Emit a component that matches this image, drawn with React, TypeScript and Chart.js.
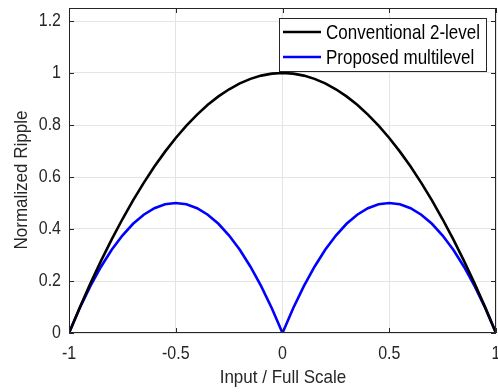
import React, { useEffect, useRef } from "react";
import { Chart, registerables } from "chart.js";

Chart.register(...registerables);

const xValues = [
  -1, -0.95, -0.9, -0.85, -0.8, -0.75, -0.7, -0.65, -0.6, -0.55, -0.5,
  -0.45, -0.4, -0.35, -0.3, -0.25, -0.2, -0.15, -0.1, -0.05, 0,
  0.05, 0.1, 0.15, 0.2, 0.25, 0.3, 0.35, 0.4, 0.45, 0.5,
  0.55, 0.6, 0.65, 0.7, 0.75, 0.8, 0.85, 0.9, 0.95, 1,
];

const conventional = [
  0, 0.0975, 0.19, 0.2775, 0.36, 0.4375, 0.51, 0.5775, 0.64, 0.6975, 0.75,
  0.7975, 0.84, 0.8775, 0.91, 0.9375, 0.96, 0.9775, 0.99, 0.9975, 1,
  0.9975, 0.99, 0.9775, 0.96, 0.9375, 0.91, 0.8775, 0.84, 0.7975, 0.75,
  0.6975, 0.64, 0.5775, 0.51, 0.4375, 0.36, 0.2775, 0.19, 0.0975, 0,
];

const multilevel = [
  0, 0.095, 0.18, 0.255, 0.32, 0.375, 0.42, 0.455, 0.48, 0.495, 0.5,
  0.495, 0.48, 0.455, 0.42, 0.375, 0.32, 0.255, 0.18, 0.095, 0,
  0.095, 0.18, 0.255, 0.32, 0.375, 0.42, 0.455, 0.48, 0.495, 0.5,
  0.495, 0.48, 0.455, 0.42, 0.375, 0.32, 0.255, 0.18, 0.095, 0,
];

const xTicks = [-1, -0.5, 0, 0.5, 1];
const xTickLabels = ["-1", "-0.5", "0", "0.5", "1"];
const yTicks = [0, 0.2, 0.4, 0.6, 0.8, 1, 1.2];
const yTickLabels = ["0", "0.2", "0.4", "0.6", "0.8", "1", "1.2"];

const seriesNames = ["Conventional 2-level", "Proposed multilevel"];
const seriesColors = ["#000000", "#0000ff"];
const xTitle = "Input / Full Scale";
const yTitle = "Normalized Ripple";

const FONT = "'Liberation Sans', Arial, Helvetica, sans-serif";
const AXIS_COLOR = "#262626";

function stretchedText(
  ctx: CanvasRenderingContext2D,
  text: string,
  x: number,
  y: number,
  size: number,
  align: CanvasTextAlign,
  sy: number,
  rot = 0
) {
  ctx.save();
  ctx.translate(x, y);
  if (rot) ctx.rotate(rot);
  ctx.scale(1, sy);
  ctx.font = `${size}px ${FONT}`;
  ctx.textAlign = align;
  ctx.textBaseline = "middle";
  ctx.fillText(text, 0, 0);
  ctx.restore();
}

const decorPlugin = {
  id: "matlabDecor",
  afterDraw(chart: any) {
    const { ctx, chartArea } = chart;
    const { left, right, top, bottom } = chartArea;
    const xs = chart.scales.x;
    const ys = chart.scales.y;
    ctx.save();
    // box
    ctx.strokeStyle = AXIS_COLOR;
    ctx.lineWidth = 1;
    ctx.strokeRect(left + 0.5, top + 0.5, right - left - 1, bottom - top - 1);
    // ticks inward
    const tl = 5;
    ctx.beginPath();
    xTicks.forEach((v) => {
      const px = Math.round(xs.getPixelForValue(v)) + 0.5;
      ctx.moveTo(px, bottom);
      ctx.lineTo(px, bottom - tl);
      ctx.moveTo(px, top);
      ctx.lineTo(px, top + tl);
    });
    yTicks.forEach((v) => {
      const py = Math.round(ys.getPixelForValue(v)) + 0.5;
      ctx.moveTo(left, py);
      ctx.lineTo(left + tl, py);
      ctx.moveTo(right, py);
      ctx.lineTo(right - tl, py);
    });
    ctx.stroke();

    // tick labels
    ctx.fillStyle = AXIS_COLOR;
    xTicks.forEach((v, i) => {
      stretchedText(ctx, xTickLabels[i], xs.getPixelForValue(v), 354, 16, "center", 1.15);
    });
    yTicks.forEach((v, i) => {
      stretchedText(ctx, yTickLabels[i], 61, ys.getPixelForValue(v), 16, "right", 1.15);
    });

    // axis titles
    stretchedText(ctx, xTitle, 283, 378, 17, "center", 1.12);
    stretchedText(ctx, yTitle, 22, 180, 17, "center", 1.12, -Math.PI / 2);

    // legend
    const lx = 279.5, ly = 18.5, lw = 207, lh = 53;
    ctx.fillStyle = "#ffffff";
    ctx.fillRect(lx, ly, lw, lh);
    ctx.strokeStyle = AXIS_COLOR;
    ctx.lineWidth = 1;
    ctx.strokeRect(lx, ly, lw, lh);
    seriesNames.forEach((name, i) => {
      const yy = 32 + i * 25;
      ctx.strokeStyle = seriesColors[i];
      ctx.lineWidth = 2.5;
      ctx.beginPath();
      ctx.moveTo(283, yy);
      ctx.lineTo(321, yy);
      ctx.stroke();
      ctx.fillStyle = "#000000";
      stretchedText(ctx, name, 326, yy + 1, 17, "left", 1.2);
    });
    ctx.restore();
  },
};

export default function App() {
  const canvasRef = useRef<HTMLCanvasElement | null>(null);

  useEffect(() => {
    if (!canvasRef.current) return;
    const chart = new Chart(canvasRef.current, {
      type: "line",
      data: {
        datasets: [
          {
            label: seriesNames[0],
            data: xValues.map((x, i) => ({ x, y: conventional[i] })),
            borderColor: seriesColors[0],
            borderWidth: 2.6,
            pointRadius: 0,
            tension: 0,
            fill: false,
          },
          {
            label: seriesNames[1],
            data: xValues.map((x, i) => ({ x, y: multilevel[i] })),
            borderColor: seriesColors[1],
            borderWidth: 2.6,
            pointRadius: 0,
            tension: 0,
            fill: false,
          },
        ],
      },
      options: {
        animation: false,
        responsive: false,
        maintainAspectRatio: false,
        layout: { padding: { top: 8, right: 2, left: 0, bottom: 0 } },
        plugins: {
          legend: { display: false },
          tooltip: { enabled: false },
        },
        scales: {
          x: {
            type: "linear",
            min: -1,
            max: 1,
            afterBuildTicks: (scale: any) => {
              scale.ticks = xTicks.map((v) => ({ value: v }));
            },
            afterFit: (scale: any) => {
              scale.height = 59;
            },
            ticks: { display: false },
            grid: { color: "#e4e4e4", lineWidth: 1, drawTicks: false },
            border: { display: false },
          },
          y: {
            type: "linear",
            min: 0,
            max: 1.25,
            afterBuildTicks: (scale: any) => {
              scale.ticks = yTicks.map((v) => ({ value: v }));
            },
            afterFit: (scale: any) => {
              scale.width = 69;
            },
            ticks: { display: false },
            grid: { color: "#e4e4e4", lineWidth: 1, drawTicks: false },
            border: { display: false },
          },
        },
      },
      plugins: [decorPlugin],
    });
    return () => chart.destroy();
  }, []);

  return (
    <div style={{ position: "fixed", left: 0, top: 0, width: 498, height: 392, background: "#ffffff" }}>
      <canvas ref={canvasRef} width={498} height={392} style={{ width: 498, height: 392 }} />
    </div>
  );
}
